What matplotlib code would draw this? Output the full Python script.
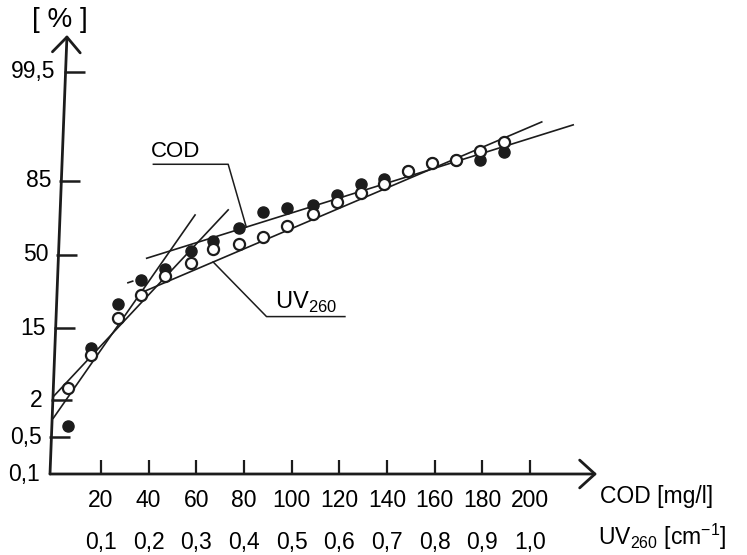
import numpy as np
import matplotlib
matplotlib.use("Agg")
import matplotlib.pyplot as plt
import matplotlib.transforms as mtransforms
from statistics import NormalDist

# Concentration steps (COD, mg/l); UV260 axis is COD/200
conc = [6, 16, 27, 37, 47, 58, 67, 78, 88, 98, 109, 119, 129, 139, 149, 159, 169, 179, 189]

# Cumulative frequency [%]
cod_pct = [0.8, 9.5, 24.2, 36.0, 42.0, 52.0, 57.6, 64.6, 72.4, 74.3,
           75.8, 79.9, 83.9, 85.6, 88.0, 90.1, 90.9, 90.9, 92.6]
uv_pct = [3.0, 7.9, 18.5, 28.5, 38.2, 45.5, 53.1, 55.8, 59.6, 65.7,
          71.6, 77.2, 80.8, 84.0, 88.0, 90.1, 90.9, 92.8, 94.4]

# Hand-fitted straight lines on probability paper (x, %)
cod_low_x, cod_low_p = [0, 59.5], [1.06, 71.1]
cod_high_x, cod_high_p = [39.2, 218.2], [47.9, 96.6]
uv_low_x, uv_low_p = [0, 73.4], [2.27, 73.5]
uv_high_x, uv_high_p = [36.4, 205.0], [29.3, 96.9]
dash_x, dash_p = [31.0, 36.0], [34.4, 36.5]

cod_ticks = [20, 40, 60, 80, 100, 120, 140, 160, 180, 200]
uv_ticks = [0.1, 0.2, 0.3, 0.4, 0.5, 0.6, 0.7, 0.8, 0.9, 1.0]
uv_labels = ["0,1", "0,2", "0,3", "0,4", "0,5", "0,6", "0,7", "0,8", "0,9", "1,0"]
p_ticks = [0.1, 0.5, 2, 15, 50, 85, 99.5]
p_labels = ["0,1", "0,5", "2", "15", "50", "85", "99,5"]

ink = "#1c1c1c"
plt.rcParams["font.family"] = ["Liberation Sans Narrow", "Liberation Sans", "DejaVu Sans"]
plt.rcParams["font.size"] = 16.5
plt.rcParams["mathtext.fontset"] = "custom"
plt.rcParams["mathtext.rm"] = "Liberation Sans Narrow"

_nd = NormalDist()


def prob_fwd(p):
    p = np.clip(np.asarray(p, dtype=float) / 100.0, 1e-7, 1 - 1e-7)
    return np.vectorize(_nd.inv_cdf, otypes=[float])(p)


def prob_inv(z):
    return np.vectorize(_nd.cdf, otypes=[float])(np.asarray(z, dtype=float)) * 100.0


fig = plt.figure(figsize=(7.47, 5.55), dpi=100)
W, H = 747, 555
ax = fig.add_axes([50 / W, 81 / H, 547 / W, 439 / H])
ax.set_yscale("function", functions=(prob_fwd, prob_inv))
ax.set_xlim(-1.385, 228.2)
ax.set_ylim(0.1, 99.9)
for s in ax.spines.values():
    s.set_visible(False)

# fitted lines
lw = 1.2
ax.plot(cod_low_x, cod_low_p, color=ink, lw=lw)
ax.plot(cod_high_x, cod_high_p, color=ink, lw=lw)
ax.plot(uv_low_x, uv_low_p, color=ink, lw=lw)
ax.plot(uv_high_x, uv_high_p, color=ink, lw=lw)
ax.plot(dash_x, dash_p, color=ink, lw=lw, ls=(0, (4, 3)))

# measured points
ax.plot(conc, cod_pct, "o", ms=8, color=ink, zorder=3)
ax.plot(conc, uv_pct, "o", ms=8, mfc="white", mec=ink, mew=1.6, zorder=4)

# leader lines and labels
cod_end_x = 81.0
t = (cod_end_x - cod_high_x[0]) / (cod_high_x[1] - cod_high_x[0])
cod_end_p = prob_inv(prob_fwd(cod_high_p[0]) + t * (prob_fwd(cod_high_p[1]) - prob_fwd(cod_high_p[0])))
ax.plot([42.0, 73.4, cod_end_x], [89.8, 89.8, cod_end_p], color=ink, lw=1.1)
ax.text(51.5, 90.3, "COD", ha="center", va="bottom", fontsize=16)

uv_start_x = 67.1
t = (uv_start_x - uv_high_x[0]) / (uv_high_x[1] - uv_high_x[0])
uv_start_p = prob_inv(prob_fwd(uv_high_p[0]) + t * (prob_fwd(uv_high_p[1]) - prob_fwd(uv_high_p[0])))
ax.plot([uv_start_x, 89.5, 122.4], [uv_start_p, 19.1, 19.1], color=ink, lw=1.1)
ax.text(106, 19.9, r"UV$_{\mathregular{260}}$", ha="center", va="bottom", fontsize=17)

# axes drawn as arrows, y axis slightly leaning
lean = 17 / 547
arrow = dict(arrowstyle="->,head_length=0.55,head_width=0.5", lw=2.0, color=ink,
             mutation_scale=20, shrinkA=0, shrinkB=0)
ax.annotate("", xy=(1.0, 0.0), xytext=(0.0, 0.0), xycoords="axes fraction",
            arrowprops=arrow, annotation_clip=False)
ax.annotate("", xy=(lean, 1.0), xytext=(0.0, 0.0), xycoords="axes fraction",
            arrowprops=arrow, annotation_clip=False)

# y ticks follow the leaning axis
yb = mtransforms.blended_transform_factory(ax.transAxes, ax.transData)
z0, z1 = prob_fwd(0.1), prob_fwd(99.9)
for p, lab in zip(p_ticks, p_labels):
    frac = (prob_fwd(p) - z0) / (z1 - z0)
    xa = lean * frac
    if p > 0.1:
        ax.plot([xa - 2 / 547, xa + 19 / 547], [p, p], color=ink, lw=1.8,
                transform=yb, clip_on=False, solid_capstyle="butt")
    ax.text(xa - 10 / 547, p, lab, transform=yb, ha="right", va="center")
ax.set_yticks([])
ax.yaxis.set_minor_locator(matplotlib.ticker.NullLocator())

# COD axis
ax.set_xticks(cod_ticks, [str(v) for v in cod_ticks])
ax.tick_params(axis="x", direction="in", length=10, width=1.6, color=ink, pad=11)
ax.xaxis.set_minor_locator(matplotlib.ticker.NullLocator())

# UV260 axis shares the same positions
sec = ax.secondary_xaxis("bottom", functions=(lambda x: x / 200.0, lambda u: u * 200.0))
sec.set_xticks(uv_ticks, uv_labels)
sec.tick_params(length=0, pad=41)
sec.spines["bottom"].set_visible(False)

ax.text(0.018, 1.034, "[ % ]", transform=ax.transAxes, ha="center", va="center", fontsize=20)
ax.text(1.0055, -0.052, "COD [mg/l]", transform=ax.transAxes, ha="left", va="center")
ax.text(1.002, -0.143, r"UV$_{\mathregular{260}}$ [cm$^{\mathregular{-1}}$]",
        transform=ax.transAxes, ha="left", va="center")

fig.savefig("out.png", dpi=100, facecolor="white")
